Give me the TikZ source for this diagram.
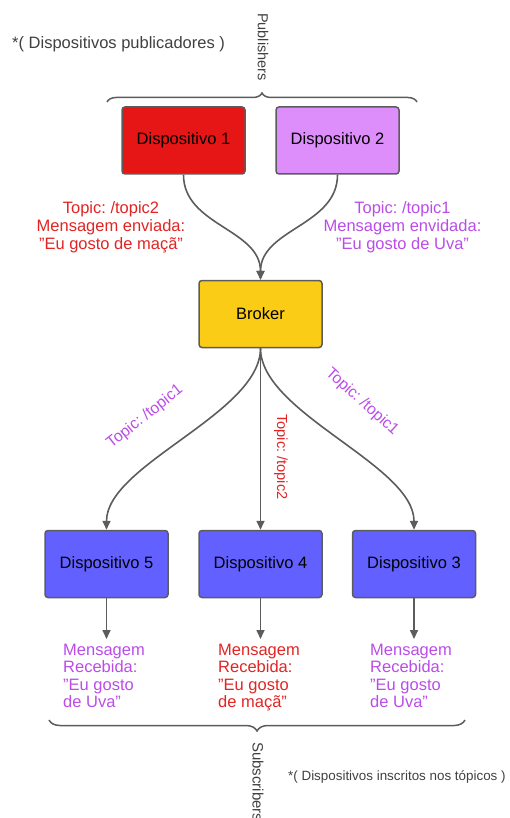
\documentclass[tikz,border=0pt]{standalone}
\usepackage{fontspec}
\setmainfont{Liberation Sans}
\usepackage{tikz}
\definecolor{devred}{RGB}{230, 22, 22}
\definecolor{devlilac}{RGB}{222, 142, 250}
\definecolor{brokeryellow}{RGB}{250, 204, 22}
\definecolor{subblue}{RGB}{98, 96, 255}
\definecolor{topicred}{RGB}{226, 36, 36}
\definecolor{topicpurple}{RGB}{186, 76, 232}
\definecolor{linegray}{RGB}{92, 92, 92}
\definecolor{notegray}{RGB}{64, 64, 64}
\usetikzlibrary{arrows.meta, positioning, decorations.pathreplacing}
\frenchspacing

\begin{document}
\begin{tikzpicture}[x=1pt, y=-1pt,
    device/.style={draw=linegray, line width=1.5pt, rounded corners=3pt, fill=#1,
                   minimum width=123pt, minimum height=67pt,
                   font=\fontsize{16.5}{19}\selectfont},
    topic/.style={text=#1, align=center, inner sep=0pt,
                  font=\fontsize{16.5}{18}\selectfont},
    received/.style={text=#1, align=left, anchor=north west, inner xsep=0pt, inner ysep=5pt,
                     font=\fontsize{16.5}{17.4}\selectfont},
    flow/.style={draw=linegray, line width=1.6pt, -{Triangle[width=8pt,length=9pt]}},
    group/.style={draw=linegray, line width=1.5pt, decorate, decoration={brace, amplitude=#1}},
    note/.style={text=notegray, inner sep=0pt, anchor=west}
]
    \useasboundingbox (0,0) rectangle (510,818);

    % Publishers
    \node[device=devred] (dev1) at (183.5,140.5) {Dispositivo 1};
    \node[device=devlilac] (dev2) at (337.5,140.5) {Dispositivo 2};
    \node[note, font=\fontsize{16.5}{19}\selectfont] (pubnote) at (12,44) {*( Dispositivos publicadores )};
    \node[note, rotate=-90, font=\fontsize{14.5}{17}\selectfont] (publabel) at (263,13) {Publishers};
    \draw[group=9pt] (107,102) -- (417,102);

    % Broker
    \node[device=brokeryellow] (broker) at (260.5,314) {Broker};

    % Subscribers
    \node[device=subblue] (dev5) at (106.5,564) {Dispositivo 5};
    \node[device=subblue] (dev4) at (260.5,564) {Dispositivo 4};
    \node[device=subblue] (dev3) at (414,564) {Dispositivo 3};

    % Published messages
    \node[topic=topicred] (pub1) at (111,227) {Topic: /topic2\\Mensagem enviada:\\"Eu gosto de maçã"};
    \node[topic=topicpurple] (pub2) at (402.5,227) {Topic: /topic1\\Mensagem envidada:\\"Eu gosto de Uva"};

    % Received messages
    \node[received=topicpurple] (msg5) at (63,639) {Mensagem\\Recebida:\\"Eu gosto\\de Uva"};
    \node[received=topicred] (msg4) at (218,639) {Mensagem\\Recebida:\\"Eu gosto\\de maçã"};
    \node[received=topicpurple] (msg3) at (370,639) {Mensagem\\Recebida:\\"Eu gosto\\de Uva"};

    % Topic labels
    \node[topic=topicpurple, rotate=38.5, font=\fontsize{15.8}{18}\selectfont] (t5) at (145,417) {Topic: /topic1};
    \node[topic=topicred, rotate=-90, font=\fontsize{14.6}{18}\selectfont] (t4) at (281,457) {Topic: /topic2};
    \node[topic=topicpurple, rotate=-42, font=\fontsize{15.8}{18}\selectfont] (t3) at (362,402) {Topic: /topic1};

    % Arrows
    \draw[flow] (dev1.south) to[out=-90, in=90] (broker.north);
    \draw[flow] (dev2.south) to[out=-90, in=90] (broker.north);
    \draw[flow] (broker.south) to[out=-90, in=90, looseness=0.7] (dev5.north);
    \draw[flow] (broker.south) -- (dev4.north);
    \draw[flow] (broker.south) to[out=-90, in=90, looseness=0.7] (dev3.north);
    \draw[flow] (dev5.south) -- (dev5.south |- msg5.north);
    \draw[flow] (dev4.south) -- (dev4.south |- msg4.north);
    \draw[flow] (dev3.south) -- (dev3.south |- msg3.north);

    % Subscribers brace
    \draw[group=11pt] (465,720) -- (49,720);
    \node[note, rotate=-90, font=\fontsize{15}{18}\selectfont] (sublabel) at (258,742) {Subscribers};
    \node[note, font=\fontsize{13.4}{16}\selectfont] (subnote) at (288,777) {*( Dispositivos inscritos nos tópicos )};
\end{tikzpicture}
\end{document}
